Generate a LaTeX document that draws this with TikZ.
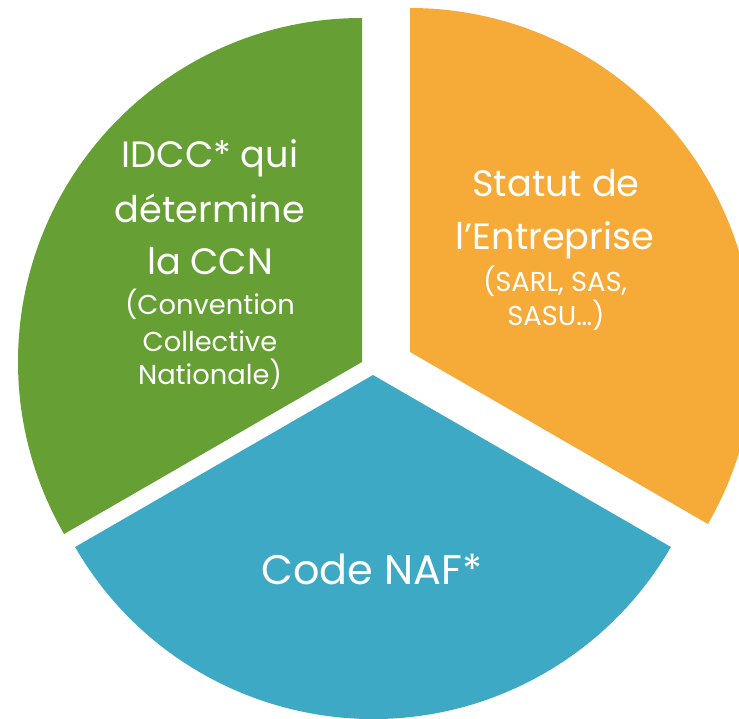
\documentclass[tikz,border=0pt]{standalone}
\usepackage{fontspec}
\setmainfont{Poppins}
\usepackage{tikz}
\definecolor{leaf}{RGB}{102, 159, 51}
\definecolor{sun}{RGB}{246, 170, 56}
\definecolor{sea}{RGB}{62, 169, 197}
\tikzset{
  bigline/.style={anchor=base, color=white, font=\fontsize{27.5}{33}\selectfont},
  smallline/.style={anchor=base, color=white, font=\fontsize{20.5}{25}\selectfont}
}

\begin{document}
\begin{tikzpicture}[x=0.75pt, y=0.75pt]

  \useasboundingbox (0, 0) rectangle (739, 718);
  \clip (0, 0) rectangle (739, 718);

  % green slice, pushed to the upper left
  \fill[leaf] (362, 356) -- ++(90:344) arc[start angle=90, end angle=210, radius=344] -- cycle;
  \node[bigline] (idcc1) at (210, 550) {IDCC* qui};
  \node[bigline] (idcc2) at (210, 495) {détermine};
  \node[bigline] (idcc3) at (210, 443) {la CCN};
  \node[smallline] (idcc4) at (210, 403) {(Convention};
  \node[smallline] (idcc5) at (210, 366) {Collective};
  \node[smallline] (idcc6) at (210, 333) {Nationale)};

  % orange slice, pushed to the upper right
  \fill[sun] (410, 366) -- ++(-30:344) arc[start angle=-30, end angle=90, radius=344] -- cycle;
  \node[bigline] (statut1) at (556, 521) {Statut de};
  \node[bigline] (statut2) at (555, 468) {l’Entreprise};
  \node[smallline] (statut3) at (555, 426) {(SARL, SAS,};
  \node[smallline] (statut4) at (556, 392) {SASU…)};

  % blue slice, pushed down
  \fill[sea] (373, 343) -- ++(210:344) arc[start angle=210, end angle=330, radius=344] -- cycle;
  \node[anchor=base, color=white, font=\fontsize{31}{36}\selectfont] (naf) at (372, 133) {Code NAF*};

\end{tikzpicture}
\end{document}
